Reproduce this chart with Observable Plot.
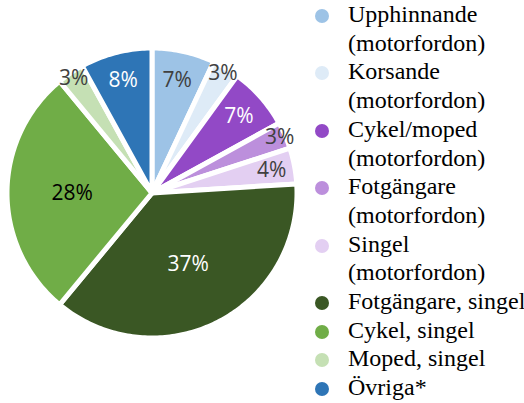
<!DOCTYPE html>
<html><head><meta charset="utf-8">
<script src="https://cdn.jsdelivr.net/npm/d3@7"></script>
<script src="https://cdn.jsdelivr.net/npm/@observablehq/plot@0.6"></script>
<style>
body{margin:0;background:#fff}
#wrap{position:relative;width:524px;height:403px;overflow:hidden}
#chart{position:absolute;left:0;top:0}
#legend{position:absolute;left:313px;top:0;font-family:"Liberation Serif","Times New Roman",serif;font-size:24px;line-height:28.7px;color:#000;white-space:nowrap}
.item{position:relative;padding-left:35px}
.dot{position:absolute;left:2px;top:9px;width:14px;height:14px;border-radius:50%}
</style>
</head><body>
<div id="wrap"><div id="chart"></div><div id="legend"></div></div>
<script>
const categories = ["Upphinnande (motorfordon)", "Korsande (motorfordon)", "Cykel/moped (motorfordon)", "Fotgängare (motorfordon)", "Singel (motorfordon)", "Fotgängare, singel", "Cykel, singel", "Moped, singel", "Övriga*"];
const shares = [7, 3, 7, 3, 4, 37, 28, 3, 8];

const colors = ["#9dc3e6", "#deebf7", "#9249c6", "#bc8fdc", "#e3cff2", "#3a5724", "#70ad47", "#c5e0b4", "#2e75b6"];
const labelColors = ["#404040", "#404040", "#ffffff", "#404040", "#404040", "#ffffff", "#000000", "#404040", "#ffffff"];

const total = d3.sum(shares);
let acc = 0;
const slices = categories.map((c, i) => {
  const a0 = acc / total * 2 * Math.PI; acc += shares[i];
  const a1 = acc / total * 2 * Math.PI;
  const v = shares[i];
  const lr = v >= 20 ? 0.55 : v >= 7 ? 0.8 : v >= 4 ? 0.84 : 0.96;
  const am = (a0 + a1) / 2;
  return {c, v, i, a0, a1, lx: lr * Math.sin(am), ly: lr * Math.cos(am)};
});
const pts = [];
for (const s of slices) {
  pts.push({c: s.c, x: 0, y: 0});
  const n = Math.max(2, Math.ceil((s.a1 - s.a0) / (Math.PI / 180)));
  for (let k = 0; k <= n; k++) {
    const a = s.a0 + (s.a1 - s.a0) * k / n;
    pts.push({c: s.c, x: Math.sin(a), y: Math.cos(a)});
  }
  pts.push({c: s.c, x: 0, y: 0});
}
const textColors = [...new Set(labelColors)];
const chart = Plot.plot({
  width: 524, height: 403, margin: 0,
  x: {domain: [-1, 1], range: [6.5, 296.5], axis: null},
  y: {domain: [-1, 1], range: [337.5, 47.5], axis: null},
  color: {domain: categories, range: colors},
  marks: [
    Plot.line(pts, {x: "x", y: "y", z: "c", fill: "c", stroke: "white", strokeWidth: 5, strokeLinejoin: "round"}),
    ...textColors.map(tc => Plot.text(slices.filter(s => labelColors[s.i] === tc), {
      x: "lx", y: "ly", text: d => d.v + "%", fill: tc, fontSize: 21, fontFamily: "'Open Sans'", textAnchor: "middle"
    }))
  ]
});
document.getElementById("chart").appendChild(chart);

const legend = document.getElementById("legend");
categories.forEach((c, i) => {
  const item = document.createElement("div");
  item.className = "item";
  const dot = document.createElement("span");
  dot.className = "dot";
  dot.style.background = colors[i];
  item.appendChild(dot);
  c.split(" (").forEach((part, j) => {
    const line = document.createElement("div");
    line.textContent = j ? "(" + part : part;
    item.appendChild(line);
  });
  legend.appendChild(item);
});
</script>
</body></html>
